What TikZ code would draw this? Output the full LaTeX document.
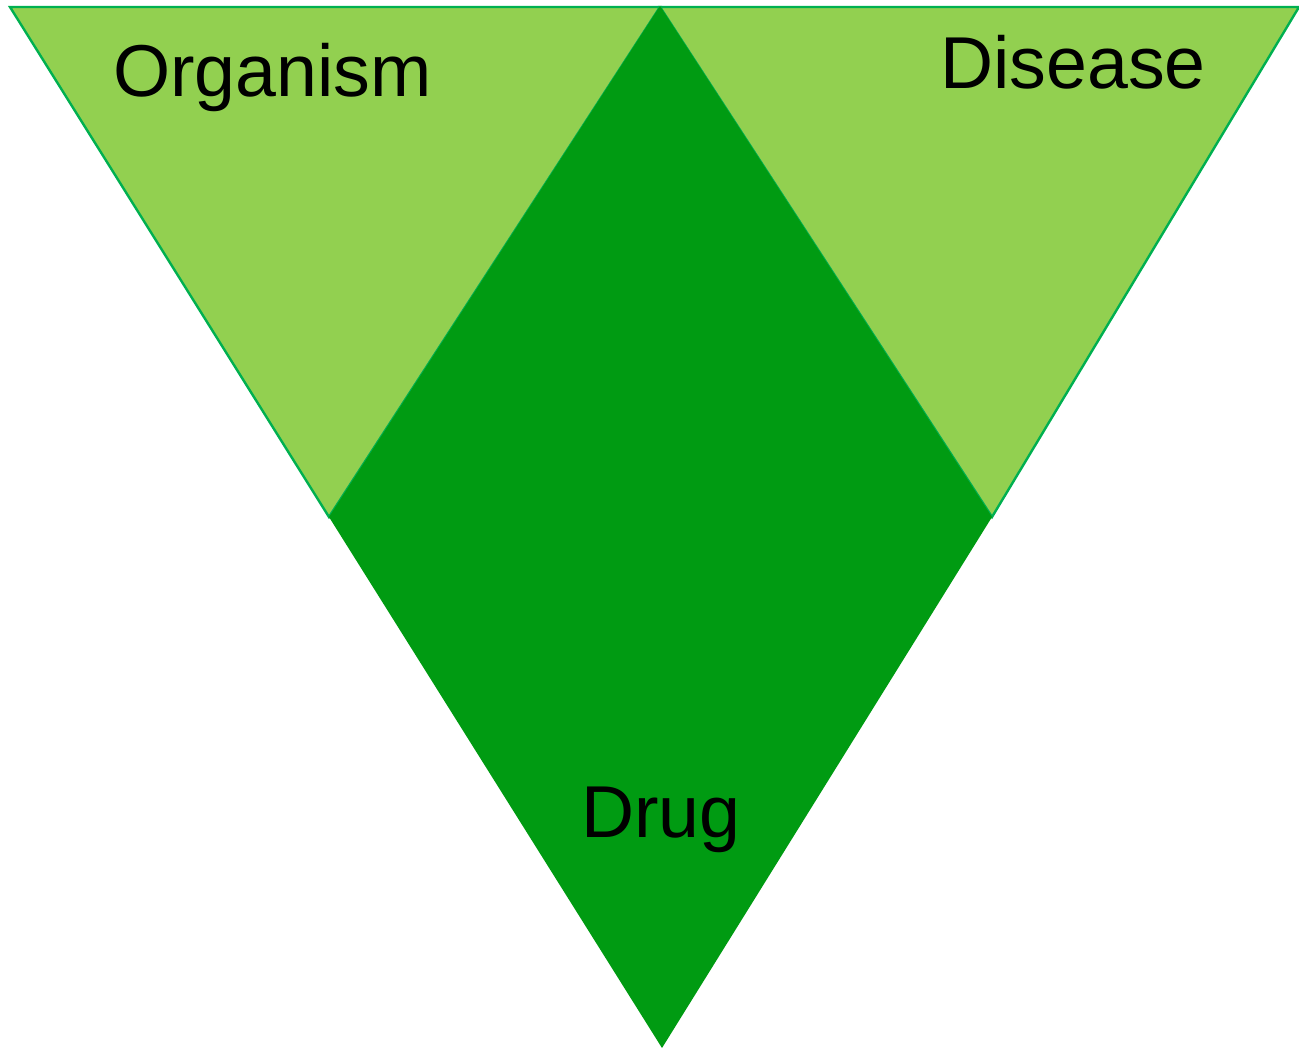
\documentclass[tikz,border=0pt]{standalone}
\usepackage{fontspec}
\setmainfont{Liberation Sans}
\definecolor{lightgreen}{RGB}{146,208,80}
\definecolor{darkgreen}{RGB}{0,155,18}
\definecolor{edgegreen}{RGB}{0,176,80}
\begin{document}
\begin{tikzpicture}[x=1pt,y=-1pt,
  side/.style={fill=lightgreen,draw=edgegreen,line width=2.4pt,line join=miter},
  core/.style={fill=darkgreen},
  label/.style={anchor=base west,inner sep=0pt,font=\fontsize{73.5}{88}\selectfont,text=black}]
\useasboundingbox (0,0) rectangle (1299,1048);
% corner points of the two outer triangles and the central diamond
\coordinate (tl) at (10,7);
\coordinate (tm) at (660,7);
\coordinate (tr) at (1299,7);
\coordinate (ml) at (329,517);
\coordinate (mr) at (992,517);
\coordinate (bot) at (662,1048);
% outer triangles
\draw[side] (tl) -- (tm) -- (ml) -- cycle;
\draw[side] (tm) -- (tr) -- (mr) -- cycle;
% central diamond
\fill[core] (660,6) -- (mr) -- (bot) -- (ml) -- cycle;
% labels
\node[label] (organism) at (113,97) {Organism};
\node[label] (disease) at (940,89) {Disease};
\node[label] (drug) at (581,837) {Drug};
\end{tikzpicture}
\end{document}
